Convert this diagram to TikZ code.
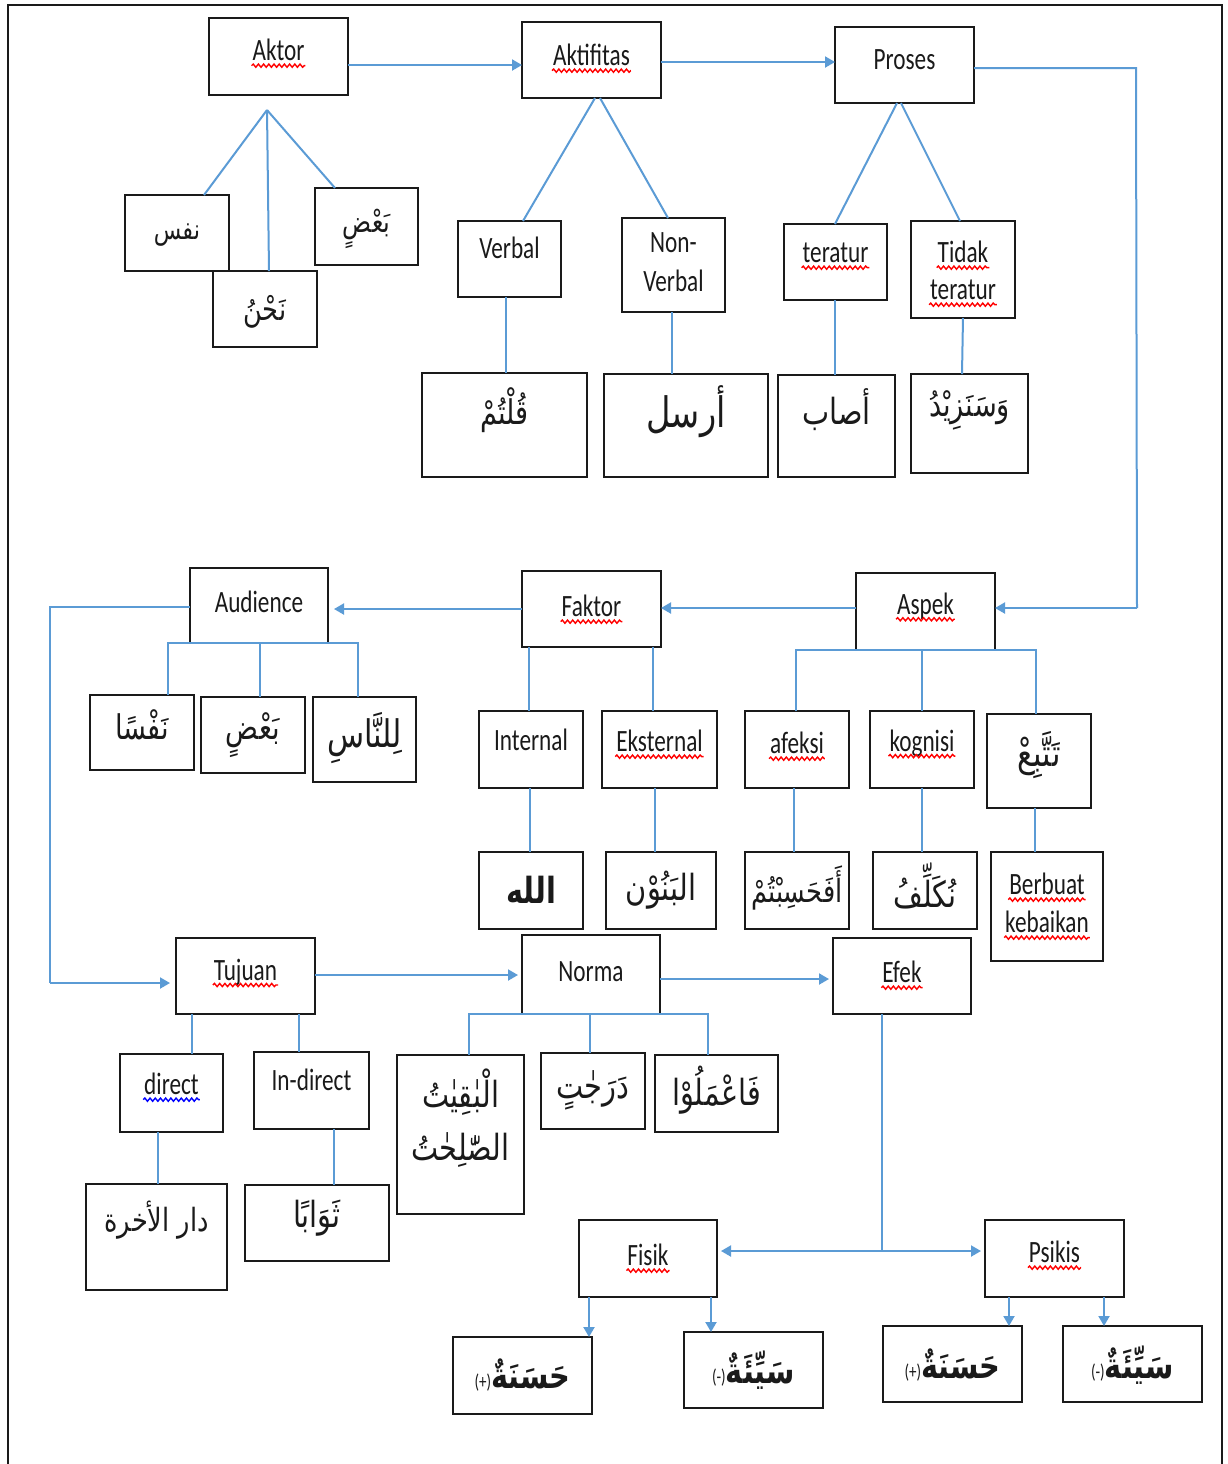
\documentclass[tikz,border=0pt]{standalone}
\usepackage{fontspec}
\setmainfont{Carlito}[FakeStretch=0.75]
\newfontfamily\ar[Script=Arabic,FakeStretch=0.8]{DejaVu Sans}
\TeXXeTstate=1
\usetikzlibrary{arrows.meta,decorations.pathmorphing}
\definecolor{lb}{HTML}{5B9BD5}
\definecolor{ink}{HTML}{1A1A1A}
\tikzset{
 bx/.style={draw=ink, line width=1.4pt, inner sep=0pt, outer sep=0pt},
 tx/.style={inner sep=0.5pt, outer sep=0pt, text=ink, font=\fontsize{15.5}{17}\selectfont},
 conn/.style={draw=lb, line width=1pt},
 arr/.style={conn, -{Triangle[width=5.5pt,length=5pt]}},
 wavy/.style={draw=red, line width=0.7pt, decorate, decoration={snake, segment length=2.6pt, amplitude=0.8pt}},
}
\newcommand\B[7]{\node[bx, minimum width={(#4-#2)*0.5pt}, minimum height={(#5-#3)*0.5pt}] (#1) at ({(#2+#4)/2},{(#3+#5)/2}) {};
\node[tx] (#1t) at ({(#2+#4)/2},#6) {#7};}
\newcommand\AR[2]{{\ar\fontsize{#1}{#1}\selectfont\beginR #2\endR}}
\newcommand\sq[2][red]{\draw[wavy,draw=#1] ([yshift=-2.5pt]#2.base west) -- ([yshift=-2.5pt]#2.base east);}
\begin{document}
\begin{tikzpicture}[x=0.5pt,y=-0.5pt]
\useasboundingbox (0,0) rectangle (1228,1464);
\draw[ink, line width=1pt] (8,1464) -- (8,5) -- (1222,5) -- (1222,1464);

% ---------- top row ----------
\B{aktor}{209}{18}{348}{95}{50}{Aktor}
\B{aktif}{522}{22}{661}{98}{55}{Aktifitas}
\B{proses}{835}{27}{974}{103}{60}{Proses}
\B{nafs}{125}{195}{229}{271}{235}{\AR{14}{نفس}}
\B{badA}{315}{188}{418}{265}{229}{\AR{15}{بَعْضٍ}}
\B{nahnu}{213}{271}{317}{347}{312}{\AR{16}{نَحْنُ}}
\B{verbal}{458}{221}{561}{297}{248}{Verbal}
\B{nonv}{622}{218}{725}{312}{243}{Non-}
\node[tx] (nonvt2) at (673.5,281) {Verbal};
\B{terat}{784}{224}{887}{300}{253}{teratur}
\B{tidak}{911}{221}{1015}{318}{252}{Tidak}
\node[tx] (tidakt2) at (963,290) {teratur};
\B{qultum}{422}{373}{587}{477}{410}{\AR{17}{قُلْتُمْ}}
\B{arsala}{604}{374}{768}{477}{412}{\AR{21}{أرسل}}
\B{asaba}{778}{375}{895}{477}{410}{\AR{18}{أصاب}}
\B{sanazid}{911}{374}{1028}{473}{410}{\AR{17}{وَسَنَزِيْدُ}}

\draw[arr] (aktor.east |- 0,65) -- (aktif.west |- 0,65);
\draw[arr] (aktif.east |- 0,62) -- (proses.west |- 0,62);
\coordinate (pc1) at (1136,68);
\coordinate (pc2) at (1137,608);
\draw[conn] (proses.east |- 0,68) -- (pc1) -- (pc2);
\coordinate (akt) at (267,110);
\draw[conn] (akt) -- (nafs.north -| 204,0);
\draw[conn] (akt) -- (nahnu.north -| 269,0);
\draw[conn] (akt) -- (badA.north -| 335,0);
\draw[conn] (aktif.south -| 595,0) -- (verbal.north -| 523,0);
\draw[conn] (aktif.south -| 600,0) -- (nonv.north -| 668,0);
\draw[conn] (proses.south -| 897,0) -- (terat.north -| 835,0);
\draw[conn] (proses.south -| 901,0) -- (tidak.north -| 960,0);
\draw[conn] (verbal.south -| 506,0) -- (qultum.north -| 506,0);
\draw[conn] (nonv.south -| 672,0) -- (arsala.north -| 672,0);
\draw[conn] (terat.south -| 835,0) -- (asaba.north -| 835,0);
\draw[conn] (tidak.south -| 963,0) -- (sanazid.north -| 962,0);

% ---------- middle row ----------
\B{aud}{190}{568}{328}{643}{602}{Audience}
\B{faktor}{522}{571}{661}{647}{606}{Faktor}
\B{aspek}{856}{573}{995}{650}{606}{Aspek}
\B{nafsan}{90}{695}{194}{770}{725}{\AR{17}{نَفْسًا}}
\B{badB}{201}{697}{305}{773}{735}{\AR{17}{بَعْضٍ}}
\B{linnas}{313}{697}{416}{782}{738}{\AR{19}{لِلنَّاسِ}}
\B{intern}{479}{711}{583}{788}{740}{Internal}
\B{ekst}{602}{711}{717}{788}{741}{Eksternal}
\B{afeksi}{745}{711}{849}{788}{743}{afeksi}
\B{kogn}{870}{711}{974}{788}{743}{kognisi}
\B{tattabi}{987}{714}{1091}{808}{755}{\AR{19}{تَتَّبِعْ}}
\B{allah}{479}{852}{583}{929}{890}{\AR{18}{\bfseries الله}}
\B{banun}{606}{852}{716}{929}{890}{\AR{18}{البَنُوْن}}
\B{afahas}{745}{852}{849}{929}{888}{\AR{16}{أَفَحَسِبْتُمْ}}
\B{nukal}{873}{852}{977}{929}{886}{\AR{18}{نُكَلِّفُ}}
\B{berbuat}{991}{852}{1103}{961}{884}{Berbuat}
\node[tx] (berbuatt2) at (1047,922) {kebaikan};

\draw[arr] (pc2) -- (aspek.east |- pc2);
\draw[arr] (aspek.west |- 0,608) -- (faktor.east |- 0,608);
\draw[arr, shorten >=3pt] (faktor.west |- 0,609) -- (aud.east |- 0,609);
\coordinate (ac1) at (50,607);
\coordinate (ac2) at (50,983);
\draw[conn] (aud.west |- ac1) -- (ac1) -- (ac2);
\draw[conn] (nafsan.north -| 168,0) |- (aud.south) -| (linnas.north -| 358,0);
\draw[conn] (aud.south -| 260,0) -- (badB.north -| 260,0);
\draw[conn] (faktor.south -| 529,0) -- (intern.north -| 529,0);
\draw[conn] (faktor.south -| 653,0) -- (ekst.north -| 653,0);
\draw[conn] (afeksi.north -| 796,0) |- (aspek.south) -| (tattabi.north -| 1036,0);
\draw[conn] (aspek.south -| 922,0) -- (kogn.north -| 922,0);
\draw[conn] (intern.south -| 530,0) -- (allah.north -| 530,0);
\draw[conn] (ekst.south -| 655,0) -- (banun.north -| 655,0);
\draw[conn] (afeksi.south -| 794,0) -- (afahas.north -| 794,0);
\draw[conn] (kogn.south -| 922,0) -- (nukal.north -| 922,0);
\draw[conn] (tattabi.south -| 1035,0) -- (berbuat.north -| 1035,0);

% ---------- bottom rows ----------
\B{tujuan}{176}{938}{315}{1014}{972}{Tujuan}
\B{norma}{522}{935}{660}{1014}{972}{Norma}
\B{efek}{833}{938}{971}{1014}{972}{Efek}
\B{direct}{120}{1054}{223}{1132}{1084}{direct}
\B{indir}{254}{1052}{369}{1129}{1080}{In-direct}
\B{baqiyat}{397}{1055}{524}{1214}{1092}{\AR{18}{الْبٰقِيٰتُ}}
\node[tx] (baqiyatt2) at (460.5,1150) {\AR{18}{الصّٰلِحٰتُ}};
\B{darajat}{541}{1053}{645}{1129}{1090}{\AR{18}{دَرَجٰتٍ}}
\B{famalu}{655}{1055}{778}{1132}{1090}{\AR{18}{فَاعْمَلُوْا}}
\B{dar}{86}{1184}{227}{1290}{1220}{{\ar\fontsize{16}{16}\selectfont\beginR دار الأخرة\endR}}
\B{thawab}{245}{1185}{389}{1261}{1218}{\AR{18}{ثَوَابًا}}
\B{fisik}{579}{1220}{717}{1297}{1255}{Fisik}
\B{psikis}{985}{1220}{1124}{1297}{1252}{Psikis}
\B{hasA}{453}{1337}{592}{1414}{1375}{{\fontsize{10}{10}\selectfont(+)}\AR{18}{\bfseries حَسَنَةٌ}}
\B{sayA}{684}{1332}{823}{1408}{1370}{{\fontsize{10}{10}\selectfont(-)}\AR{18}{\bfseries سَيِّئَةٌ}}
\B{hasB}{883}{1326}{1022}{1402}{1365}{{\fontsize{10}{10}\selectfont(+)}\AR{18}{\bfseries حَسَنَةٌ}}
\B{sayB}{1063}{1326}{1202}{1402}{1365}{{\fontsize{10}{10}\selectfont(-)}\AR{18}{\bfseries سَيِّئَةٌ}}

\draw[arr, shorten >=3pt] (ac2) -- (tujuan.west |- ac2);
\draw[arr, shorten >=2pt] (tujuan.east |- 0,975) -- (norma.west |- 0,975);
\draw[arr, shorten >=2pt] (norma.east |- 0,979) -- (efek.west |- 0,979);
\draw[conn] (tujuan.south -| 192,0) -- (direct.north -| 192,0);
\draw[conn] (tujuan.south -| 299,0) -- (indir.north -| 299,0);
\draw[conn] (direct.south -| 158,0) -- (dar.north -| 158,0);
\draw[conn] (indir.south -| 334,0) -- (thawab.north -| 334,0);
\draw[conn] (baqiyat.north -| 469,0) |- (norma.south) -| (famalu.north -| 708,0);
\draw[conn] (norma.south -| 590,0) -- (darajat.north -| 590,0);
\coordinate (ec) at (882,1251);
\draw[conn] (efek.south -| ec) -- (ec);
\draw[arr, shorten >=2pt] (ec) -- (fisik.east |- ec);
\draw[arr, shorten >=2pt] (ec) -- (psikis.west |- ec);
\draw[arr] (fisik.south -| 589,0) -- (hasA.north -| 589,0);
\draw[arr] (fisik.south -| 711,0) -- (sayA.north -| 711,0);
\draw[arr] (psikis.south -| 1009,0) -- (hasB.north -| 1009,0);
\draw[arr] (psikis.south -| 1104,0) -- (sayB.north -| 1104,0);

% ---------- spelling marks ----------
\sq{aktort} \sq{aktift} \sq{teratt} \sq{tidakt} \sq{tidakt2}
\sq{faktort} \sq{aspekt} \sq{ekstt} \sq{afeksit} \sq{kognt}
\sq{berbuatt} \sq{berbuatt2} \sq{tujuant} \sq{efekt} \sq{fisikt} \sq{psikist}
\sq[blue]{directt}
\end{tikzpicture}
\end{document}
